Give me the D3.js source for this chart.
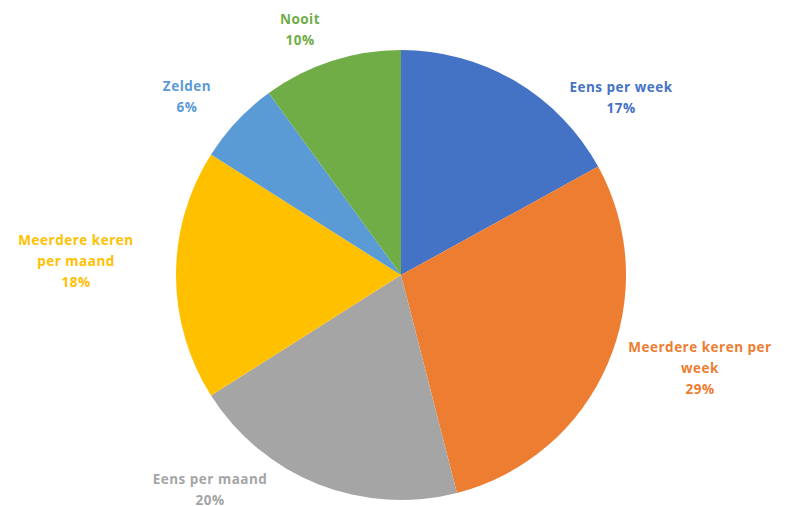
<!DOCTYPE html>
<html lang="nl">
<head>
<meta charset="UTF-8"/>
<title>Pie</title>
<script src="https://d3js.org/d3.v7.js"></script>
<style>
  body { margin: 0; background: #fff; }
  text { font-family: "Open Sans", sans-serif; font-weight: bold; font-size: 13.5px; letter-spacing: 0.5px; }
</style>
</head>
<body>
<div id="chart"></div>
<script>
// data, clockwise from 12 o'clock
const categories = ["Eens per week", "Meerdere keren per week", "Eens per maand",
                    "Meerdere keren per maand", "Zelden", "Nooit"]
const values = [17, 29, 20, 18, 6, 10]
const colors = ["#4472C4", "#ED7D31", "#A5A5A5", "#FFC000", "#5B9BD5", "#70AD47"]
// label lines as Excel wrapped them
const labelLines = [
  ["Eens per week"],
  ["Meerdere keren per", "week"],
  ["Eens per maand"],
  ["Meerdere keren", "per maand"],
  ["Zelden"],
  ["Nooit"]
]

const width = 787, height = 506
const cx = 401, cy = 275, radius = 225

// where the labels sit (centre of top line)
const labelPos = [[621, 87], [700, 347], [210, 479], [76, 240], [187, 86], [300, 19]]

const svg = d3.select("#chart")
  .append("svg")
    .attr("width", width)
    .attr("height", height)

const g = svg.append("g")
    .attr("transform", `translate(${cx},${cy})`)

const pie = d3.pie().sort(null).value(d => d.value)
const arc = d3.arc().innerRadius(0).outerRadius(radius)

const data = categories.map((c, i) => ({name: c, value: values[i], color: colors[i], lines: labelLines[i]}))

g.selectAll("path")
  .data(pie(data))
  .join("path")
    .attr("d", arc)
    .attr("fill", d => d.data.color)

// labels
const lab = svg.append("g")
  .selectAll("text")
  .data(data)
  .join("text")
    .attr("text-anchor", "middle")
    .attr("fill", d => d.color)
    .attr("transform", (d, i) => `translate(${labelPos[i][0]},${labelPos[i][1]})`)

lab.each(function(d) {
  const t = d3.select(this)
  const lines = d.lines.concat([d.value + "%"])
  lines.forEach((l, j) => {
    t.append("tspan")
      .attr("x", 0)
      .attr("y", j * 21)
      .attr("dy", "0.35em")
      .text(l)
  })
})
</script>
</body>
</html>
